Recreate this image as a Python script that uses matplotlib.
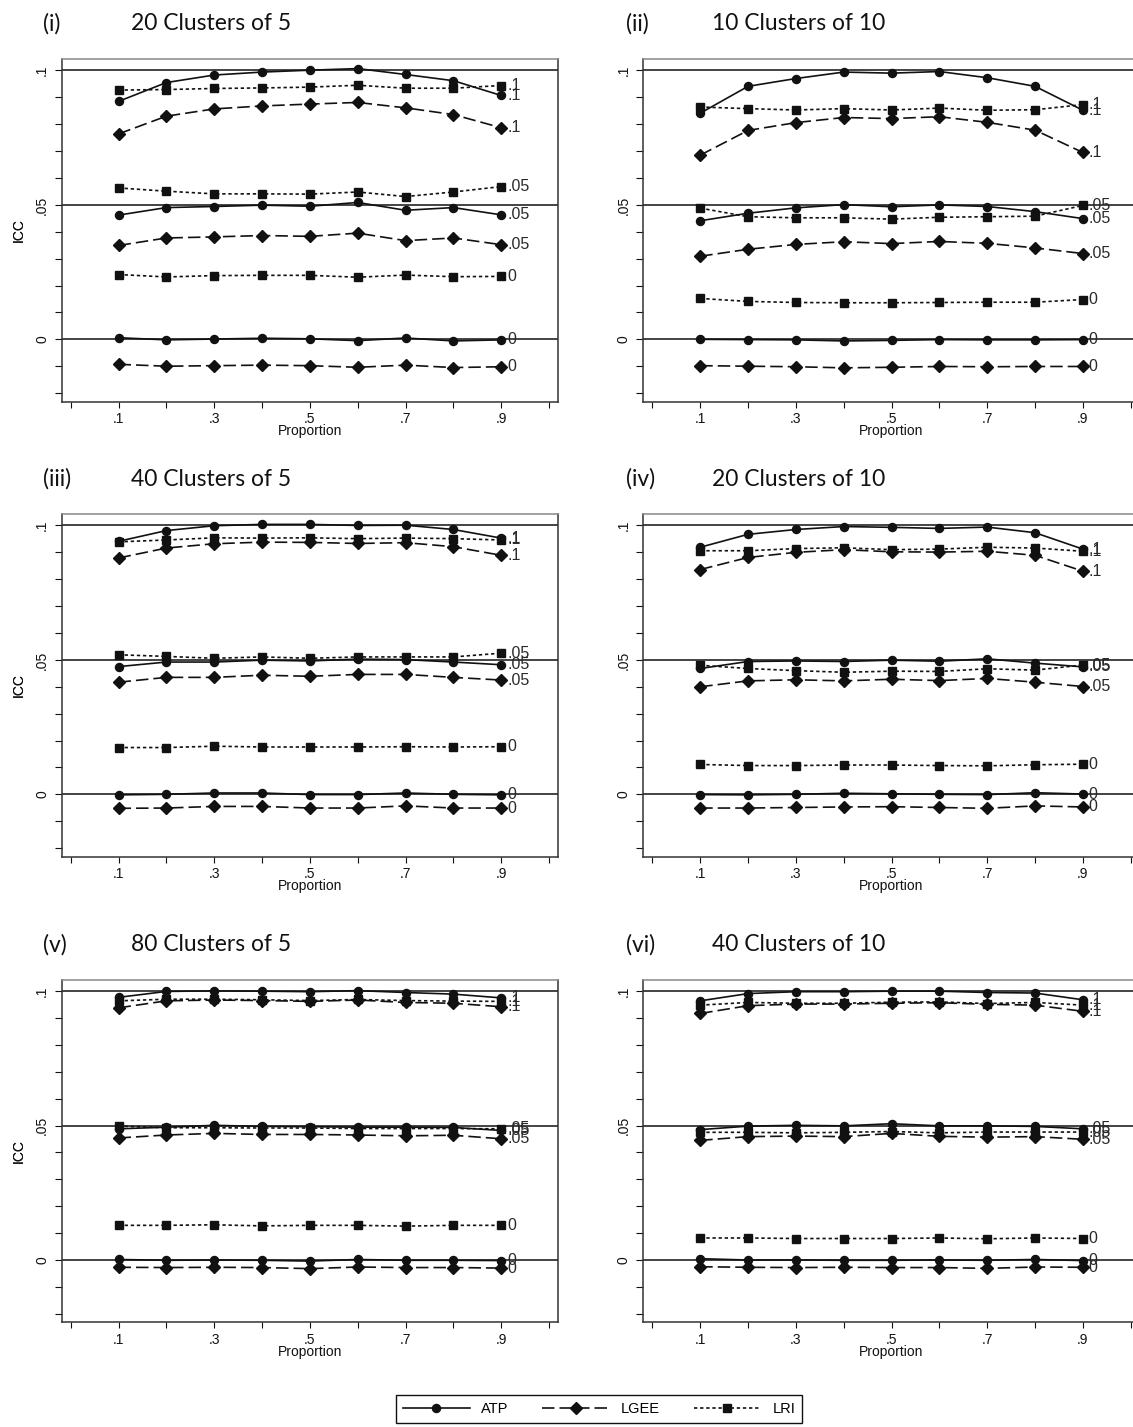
import matplotlib
matplotlib.use("Agg")
import matplotlib.pyplot as plt
from matplotlib.lines import Line2D

plt.rcParams['font.family'] = ['Liberation Sans', 'DejaVu Sans']
plt.rcParams['lines.scale_dashes'] = False

# ---------------- data ----------------
proportion = [0.1, 0.2, 0.3, 0.4, 0.5, 0.6, 0.7, 0.8, 0.9]
true_icc = [0.1, 0.05, 0.0]
icc_labels = ['.1', '.05', '0']
methods = ['ATP', 'LGEE', 'LRI']
panel_numerals = ['(i)', '(ii)', '(iii)', '(iv)', '(v)', '(vi)']
panel_titles = ['20 Clusters of 5', '10 Clusters of 10', '40 Clusters of 5',
                '20 Clusters of 10', '80 Clusters of 5', '40 Clusters of 10']
x_tick_values = [0.0, 0.1, 0.2, 0.3, 0.4, 0.5, 0.6, 0.7, 0.8, 0.9, 1.0]
x_tick_labels = ['', '.1', '', '.3', '', '.5', '', '.7', '', '.9', '']
y_tick_values = [-0.02, -0.01, 0.0, 0.01, 0.02, 0.03, 0.04, 0.05, 0.06, 0.07, 0.08, 0.09, 0.1]
y_tick_labels = ['', '', '0', '', '', '', '', '.05', '', '', '', '', '.1']
ref_lines = [0.0, 0.05, 0.1]

# panel (i) 20 clusters of 5
i_atp_10 = [.0885, .0955, .0983, .0994, .1001, .1007, .0985, .0962, .0907]
i_atp_05 = [.0462, .0490, .0494, .0499, .0495, .0509, .0480, .0490, .0463]
i_atp_00 = [.0006, -.0002, .0001, .0004, .0002, -.0005, .0005, -.0006, -.0002]
i_lgee_10 = [.0764, .0830, .0857, .0868, .0875, .0881, .0861, .0836, .0787]
i_lgee_05 = [.0349, .0377, .0381, .0386, .0383, .0395, .0367, .0377, .0352]
i_lgee_00 = [-.0093, -.0100, -.0098, -.0096, -.0098, -.0104, -.0096, -.0105, -.0102]
i_lri_10 = [.0927, .0929, .0933, .0935, .0938, .0945, .0934, .0934, .0944]
i_lri_05 = [.0563, .0551, .0541, .0541, .0540, .0548, .0531, .0548, .0568]
i_lri_00 = [.0241, .0232, .0237, .0238, .0238, .0231, .0239, .0233, .0234]

# panel (ii) 10 clusters of 10
ii_atp_10 = [.0841, .0941, .0970, .0994, .0990, .0996, .0973, .0941, .0852]
ii_atp_05 = [.0441, .0469, .0489, .0501, .0493, .0500, .0494, .0475, .0449]
ii_atp_00 = [.0000, -.0001, -.0002, -.0006, -.0004, -.0001, -.0002, -.0002, -.0001]
ii_lgee_10 = [.0685, .0777, .0806, .0825, .0821, .0828, .0807, .0778, .0695]
ii_lgee_05 = [.0309, .0335, .0353, .0363, .0356, .0364, .0357, .0340, .0319]
ii_lgee_00 = [-.0098, -.0100, -.0102, -.0106, -.0104, -.0101, -.0102, -.0101, -.0101]
ii_lri_10 = [.0864, .0858, .0853, .0858, .0853, .0860, .0852, .0854, .0873]
ii_lri_05 = [.0488, .0456, .0452, .0452, .0447, .0454, .0456, .0458, .0498]
ii_lri_00 = [.0152, .0141, .0137, .0136, .0136, .0137, .0138, .0138, .0148]

# panel (iii) 40 clusters of 5
iii_atp_10 = [.0941, .0981, .0999, .1004, .1004, .1000, .1001, .0985, .0953]
iii_atp_05 = [.0475, .0492, .0492, .0499, .0496, .0503, .0501, .0492, .0482]
iii_atp_00 = [-.0002, .0000, .0005, .0005, -.0001, -.0001, .0005, .0000, -.0002]
iii_lgee_10 = [.0879, .0916, .0932, .0938, .0937, .0933, .0936, .0921, .0889]
iii_lgee_05 = [.0417, .0435, .0435, .0443, .0439, .0446, .0446, .0435, .0425]
iii_lgee_00 = [-.0052, -.0051, -.0045, -.0045, -.0051, -.0051, -.0043, -.0051, -.0051]
iii_lri_10 = [.0939, .0946, .0954, .0953, .0954, .0951, .0953, .0951, .0946]
iii_lri_05 = [.0519, .0513, .0506, .0511, .0506, .0511, .0511, .0511, .0525]
iii_lri_00 = [.0174, .0174, .0179, .0176, .0176, .0176, .0177, .0176, .0177]

# panel (iv) 20 clusters of 10
iv_atp_10 = [.0919, .0967, .0985, .0996, .0993, .0989, .0994, .0973, .0912]
iv_atp_05 = [.0468, .0494, .0496, .0494, .0499, .0495, .0504, .0488, .0474]
iv_atp_00 = [-.0001, -.0002, .0000, .0004, .0002, .0000, -.0001, .0006, .0001]
iv_lgee_10 = [.0836, .0881, .0900, .0910, .0902, .0901, .0904, .0889, .0830]
iv_lgee_05 = [.0400, .0422, .0426, .0422, .0428, .0423, .0431, .0417, .0401]
iv_lgee_00 = [-.0051, -.0051, -.0049, -.0047, -.0046, -.0049, -.0052, -.0043, -.0047]
iv_lri_10 = [.0906, .0906, .0914, .0917, .0910, .0912, .0919, .0916, .0904]
iv_lri_05 = [.0480, .0468, .0460, .0454, .0458, .0457, .0467, .0462, .0481]
iv_lri_00 = [.0111, .0107, .0107, .0109, .0109, .0107, .0106, .0110, .0112]

# panel (v) 80 clusters of 5
v_atp_10 = [.0977, .0999, .1001, .1000, .0998, .1002, .0995, .0989, .0975]
v_atp_05 = [.0488, .0494, .0501, .0497, .0496, .0494, .0494, .0493, .0482]
v_atp_00 = [.0002, -.0001, .0000, -.0001, -.0004, .0002, -.0001, -.0001, -.0002]
v_lgee_10 = [.0938, .0964, .0967, .0965, .0962, .0967, .0958, .0955, .0942]
v_lgee_05 = [.0454, .0465, .0471, .0467, .0467, .0465, .0462, .0464, .0451]
v_lgee_00 = [-.0027, -.0028, -.0027, -.0028, -.0032, -.0026, -.0028, -.0028, -.0030]
v_lri_10 = [.0964, .0970, .0970, .0968, .0965, .0969, .0965, .0963, .0962]
v_lri_05 = [.0498, .0492, .0492, .0491, .0491, .0489, .0489, .0489, .0488]
v_lri_00 = [.0129, .0129, .0131, .0127, .0129, .0129, .0126, .0129, .0129]

# panel (vi) 40 clusters of 10
vi_atp_10 = [.0964, .0991, .0998, .0998, .1000, .1000, .0995, .0993, .0968]
vi_atp_05 = [.0485, .0498, .0501, .0499, .0507, .0499, .0499, .0497, .0488]
vi_atp_00 = [.0005, .0000, .0000, -.0001, -.0001, .0000, -.0001, .0002, -.0002]
vi_lgee_10 = [.0917, .0946, .0952, .0952, .0955, .0957, .0951, .0948, .0925]
vi_lgee_05 = [.0445, .0459, .0461, .0459, .0471, .0460, .0457, .0459, .0449]
vi_lgee_00 = [-.0025, -.0027, -.0028, -.0027, -.0028, -.0028, -.0031, -.0026, -.0027]
vi_lri_10 = [.0948, .0958, .0955, .0955, .0959, .0960, .0954, .0958, .0948]
vi_lri_05 = [.0475, .0475, .0473, .0475, .0478, .0473, .0476, .0476, .0476]
vi_lri_00 = [.0082, .0082, .0080, .0080, .0080, .0082, .0079, .0082, .0080]

panels = [
    {'ATP': [i_atp_10, i_atp_05, i_atp_00], 'LGEE': [i_lgee_10, i_lgee_05, i_lgee_00], 'LRI': [i_lri_10, i_lri_05, i_lri_00]},
    {'ATP': [ii_atp_10, ii_atp_05, ii_atp_00], 'LGEE': [ii_lgee_10, ii_lgee_05, ii_lgee_00], 'LRI': [ii_lri_10, ii_lri_05, ii_lri_00]},
    {'ATP': [iii_atp_10, iii_atp_05, iii_atp_00], 'LGEE': [iii_lgee_10, iii_lgee_05, iii_lgee_00], 'LRI': [iii_lri_10, iii_lri_05, iii_lri_00]},
    {'ATP': [iv_atp_10, iv_atp_05, iv_atp_00], 'LGEE': [iv_lgee_10, iv_lgee_05, iv_lgee_00], 'LRI': [iv_lri_10, iv_lri_05, iv_lri_00]},
    {'ATP': [v_atp_10, v_atp_05, v_atp_00], 'LGEE': [v_lgee_10, v_lgee_05, v_lgee_00], 'LRI': [v_lri_10, v_lri_05, v_lri_00]},
    {'ATP': [vi_atp_10, vi_atp_05, vi_atp_00], 'LGEE': [vi_lgee_10, vi_lgee_05, vi_lgee_00], 'LRI': [vi_lri_10, vi_lri_05, vi_lri_00]},
]

# ---------------- styles ----------------
W, H = 1133, 1427
INK = '#111111'
styles = {
    'ATP':  dict(linestyle='-', marker='o', markersize=5.8),
    'LGEE': dict(linestyle=(0, (9, 3.6)), marker='D', markersize=6.0),
    'LRI':  dict(linestyle=(0, (2.4, 2.0)), marker='s', markersize=5.4),
}
col_left = [61.7, 643.4]
ax_w = 496.3
row_top = [58.9, 513.9, 979.6]
ax_h = 342.8

fig = plt.figure(figsize=(W / 100, H / 100), dpi=100)

for k, data in enumerate(panels):
    r, c = divmod(k, 2)
    left = col_left[c] / W
    bottom = 1 - (row_top[r] + ax_h) / H
    ax = fig.add_axes([left, bottom, ax_w / W, ax_h / H])
    ax.set_xlim(-0.0188, 1.0188)
    ax.set_ylim(-0.0232, 0.1043)
    for yv in ref_lines:
        ax.axhline(yv, color=INK, lw=1.1, zorder=1)
    for m in ['LRI', 'LGEE', 'ATP']:
        for s, series in enumerate(data[m]):
            ax.plot(proportion, series, color=INK, lw=1.2, markerfacecolor=INK,
                    markeredgecolor=INK, zorder=3, clip_on=False, **styles[m])
            ax.annotate(icc_labels[s], xy=(proportion[-1], series[-1]), xytext=(4.2, 0),
                        textcoords='offset points', ha='left', va='center',
                        fontsize=11.5, color='#2a2a2a', zorder=4)
    ax.set_xticks(x_tick_values, labels=x_tick_labels)
    ax.set_yticks(y_tick_values, labels=y_tick_labels)
    ax.tick_params(axis='x', length=4, width=0.8, pad=3.5, labelsize=10, colors=INK)
    ax.tick_params(axis='y', length=5, width=0.8, pad=4, labelsize=10, colors=INK)
    for lab in ax.get_yticklabels():
        lab.set_rotation(90)
        lab.set_verticalalignment('center')
    for sp in ax.spines.values():
        sp.set_linewidth(1.1)
        sp.set_color('#333333')
    ax.spines['top'].set_color('#888888')
    ax.set_xlabel('Proportion', fontsize=10, color=INK)
    ax.xaxis.set_label_coords(0.5, -0.066)
    # y label
    fig.text(18.5 / W, 1 - (row_top[r] + ax_h / 2) / H, 'ICC', rotation=90,
             ha='center', va='center', fontsize=10, color=INK)
    # titles
    base_y = 1 - (row_top[r] - 28.4) / H
    num_x = [43, 626][c]
    ttl_x = [131, 712][c]
    fig.text(num_x / W, base_y, panel_numerals[k], family=['Lato', 'DejaVu Sans'],
             fontsize=16.5, va='baseline', ha='left', color=INK)
    fig.text(ttl_x / W, base_y, panel_titles[k], family=['Lato', 'DejaVu Sans'],
             fontsize=16.5, va='baseline', ha='left', color=INK)

handles = [Line2D([], [], color=INK, lw=1.2, markerfacecolor=INK, markeredgecolor=INK,
                  **styles[m]) for m in methods]
leg = fig.legend(handles, methods, ncol=3, loc='center',
                 bbox_to_anchor=(599 / W, 1 - 1409 / H), fontsize=10.5,
                 frameon=True, fancybox=False, edgecolor=INK, framealpha=1,
                 handlelength=4.6, handletextpad=0.8, columnspacing=2.3,
                 borderpad=0.45, numpoints=1)
leg.get_frame().set_linewidth(1.0)

fig.savefig('out.png', dpi=100)
